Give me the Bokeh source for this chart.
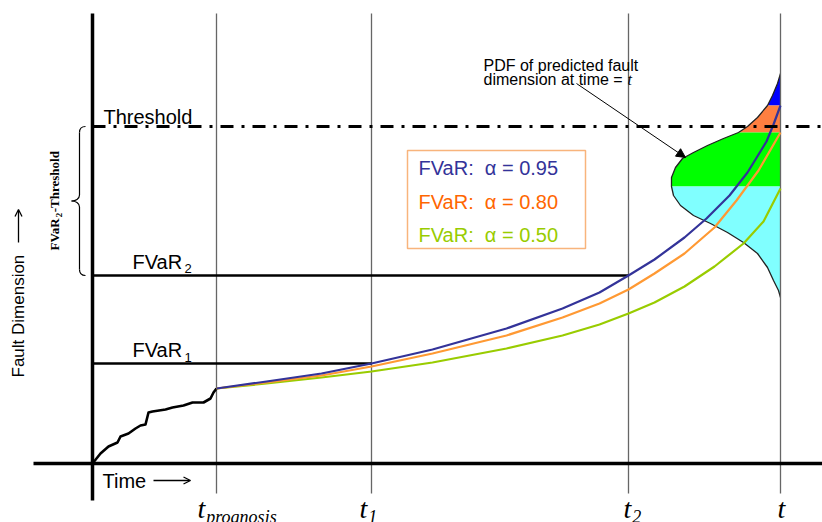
import numpy as np
from bokeh.plotting import figure
from bokeh.models import Range1d, Arrow, NormalHead, OpenHead
from bokeh.core.properties import value
from bokeh.embed import file_html
from bokeh.resources import INLINE

# ---------------- data (diagram units: time along x, fault dimension along y) ----
time_marks = [124, 279, 536, 688]          # t_prognosis, t1, t2, t
time_names = ["prognosis", "1", "2", ""]
t_prog, t1, t2, t_end = time_marks
threshold = 337
fvar_levels = [100, 188]                   # FVaR1, FVaR2
fvar_times = [279, 536]                    # where alpha=0.95 curve reaches them

# observed fault growth history
hist_t = [0, 8, 16, 25, 28, 36, 43, 48, 53, 56, 60, 73, 80, 91, 100, 105, 111, 118, 121, 124]
hist_d = [0, 10, 17, 21, 27, 30, 35, 38, 39, 51, 52, 54, 56, 58, 61, 61, 61, 65, 71, 75]

# predicted FVaR trajectories
fc095_t = [124, 174, 229, 279, 340, 414, 470, 507, 536, 562, 592, 614, 637, 655, 674, 681, 688]
fc095_d = [75, 82, 90, 100, 114, 135, 155, 171, 188, 204, 226, 245, 268, 291, 322, 339, 358]
fc080_t = [124, 174, 229, 279, 340, 414, 470, 507, 536, 562, 592, 622, 644, 666, 688]
fc080_d = [75, 81, 88, 97, 110, 128, 146, 160, 174, 190, 210, 236, 263, 293, 331]
fc050_t = [124, 174, 229, 279, 340, 414, 470, 507, 536, 562, 592, 622, 651, 671, 688]
fc050_d = [75, 80, 86, 92, 101, 115, 128, 139, 150, 161, 177, 197, 220, 242, 275]

# PDF of predicted fault dimension at time t
pdf_dim = [390, 380, 368, 358, 346, 337, 331, 325, 318, 311, 305, 296, 286, 277,
           268, 258, 248, 240, 231, 221, 210, 196, 183, 173, 166]
pdf_density = [0, 3, 8, 13, 23, 33, 42, 57, 73, 87, 98, 105, 109, 109,
               107, 100, 87, 70, 53, 37, 23, 13, 7, 2, 0]
band_edges = [390, 358, 331, 277, 166]
band_colors = ["#0000FF", "#FF7F40", "#00FF00", "#80FFFF"]

legend_labels = ["FVaR:\u00a0\u00a0\u03b1 = 0.95", "FVaR:\u00a0\u00a0\u03b1 = 0.80",
                 "FVaR:\u00a0\u00a0\u03b1 = 0.50"]
curve_colors = ["#333399", "#FF9933", "#99CC00"]
legend_text_colors = ["#333399", "#FF6600", "#99CC00"]

SANS = value("Liberation Sans")
SERIF = value("Liberation Serif")

p = figure(width=822, height=522, x_range=Range1d(-92, 730), y_range=Range1d(-59, 463),
           output_backend="svg", toolbar_location=None, min_border=0,
           x_axis_location=None, y_axis_location=None)
p.grid.visible = False
p.outline_line_color = None
p.background_fill_color = "white"
p.border_fill_color = "white"

# ---- PDF bands ----
dim = np.array(pdf_dim, dtype=float)
den = np.array(pdf_density, dtype=float)
for i, col in enumerate(band_colors):
    hi, lo = band_edges[i], band_edges[i + 1]
    m = (dim <= hi) & (dim >= lo)
    p.harea(x1=t_end - den[m], x2=np.full(m.sum(), t_end), y=dim[m],
            fill_color=col, fill_alpha=1.0)
p.line(t_end - den, dim, line_color="#222222", line_width=1.3, line_join="round")

# ---- vertical time lines ----
p.segment(x0=time_marks, y0=[-30] * 4, x1=time_marks, y1=[450] * 4,
          line_color="#666666", line_width=1.3)

# ---- axes ----
p.segment(x0=[0], y0=[-37], x1=[0], y1=[450], line_color="black", line_width=3.5)
p.segment(x0=[-59], y0=[0], x1=[730], y1=[0], line_color="black", line_width=3.5)

# ---- FVaR levels ----
p.segment(x0=[0, 0], y0=fvar_levels, x1=fvar_times, y1=fvar_levels,
          line_color="black", line_width=2.5)

# ---- history ----
p.line(hist_t, hist_d, line_color="black", line_width=2.6, line_join="round")

# ---- forecast curves ----
for xs, ys, col in zip([fc050_t, fc080_t, fc095_t], [fc050_d, fc080_d, fc095_d],
                       curve_colors[::-1]):
    p.line(xs, ys, line_color=col, line_width=2.2, line_join="round")

# ---- threshold ----
p.line([0, 730], [threshold, threshold], line_color="black", line_width=3,
       line_dash="13 8 3 8")

# ---- legend box ----
p.quad(left=[315], right=[493], bottom=[215], top=[313], fill_color="white",
       line_color="#F8B47C", line_width=1.5)
p.text(x=[326] * 3, y=[295.5, 262, 229], text=legend_labels, text_color=legend_text_colors,
       text_font=SANS, text_font_size="20px", text_align="left", text_baseline="middle")

# ---- labels ----
p.text(x=[11], y=[347], text=["Threshold"], text_font=SANS, text_font_size="20px",
       text_align="left", text_baseline="middle", text_color="black")
fv_fs = 20
fv_w = 2.556 * fv_fs
p.text(x=[40, 40], y=[fvar_levels[1] + 14, fvar_levels[0] + 14], text=["FVaR", "FVaR"],
       text_font=SANS, text_font_size=f"{fv_fs}px", text_align="left",
       text_baseline="middle", text_color="black")
p.text(x=[40 + fv_w + 1] * 2, y=[fvar_levels[1] + 7, fvar_levels[0] + 6], text=["2", "1"],
       text_font=SANS, text_font_size="13px", text_align="left",
       text_baseline="middle", text_color="black")

# Time arrow label
p.text(x=[10], y=[-17], text=["Time"], text_font=SANS, text_font_size="20px",
       text_align="left", text_baseline="middle", text_color="black")
p.add_layout(Arrow(end=OpenHead(size=7, line_width=1.3, line_color="black"),
                   x_start=61, y_start=-17, x_end=98, y_end=-17,
                   line_width=1.3, line_color="black"))

# Fault Dimension label (rotated)
p.text(x=[-74], y=[86], text=["Fault Dimension"], angle=np.pi / 2, text_font=SANS,
       text_font_size="17px", text_align="left", text_baseline="middle", text_color="black")
p.add_layout(Arrow(end=OpenHead(size=7, line_width=1.3, line_color="black"),
                   x_start=-74, y_start=221, x_end=-74, y_end=254,
                   line_width=1.3, line_color="black"))

# FVaR2-Threshold (rotated, bold serif)
bs = 13
y0 = 213
p.text(x=[-38], y=[y0], text=["FVaR"], angle=np.pi / 2, text_font=SERIF,
       text_font_style="bold", text_font_size=f"{bs}px", text_align="left",
       text_baseline="middle", text_color="black")
p.text(x=[-34], y=[y0 + 2.555 * bs], text=["2"], angle=np.pi / 2, text_font=SERIF,
       text_font_style="bold", text_font_size="9px", text_align="left",
       text_baseline="middle", text_color="black")
p.text(x=[-38], y=[y0 + 2.555 * bs + 5], text=["-Threshold"], angle=np.pi / 2,
       text_font=SERIF, text_font_style="bold", text_font_size=f"{bs}px",
       text_align="left", text_baseline="middle", text_color="black")

# brace spanning FVaR2 .. Threshold
top, bot = threshold, fvar_levels[1]
mid = (top + bot) / 2
bx, bt, be = -13, -21, -7
p.bezier(x0=[be, bx, bt, bx], y0=[top, mid + 6, mid, bot + 6],
         x1=[bx, bt, bx, be], y1=[top - 6, mid, mid - 6, bot],
         cx0=[be - 4, bx, bt + 4, bx], cy0=[top, mid + 2, mid, bot + 2],
         cx1=[bx, bt + 4, bx, be - 4], cy1=[top - 2, mid, mid - 2, bot],
         line_color="black", line_width=1.2)
p.segment(x0=[bx, bx], y0=[top - 6, mid - 6], x1=[bx, bx], y1=[mid + 6, bot + 6],
          line_color="black", line_width=1.2)

# PDF annotation
p.text(x=[391, 391], y=[398.5, 384.5], text=["PDF of predicted fault", "dimension at time ="],
       text_font=SANS, text_font_size="16px", text_align="left",
       text_baseline="middle", text_color="black")
p.text(x=[535], y=[384.5], text=["t"], text_font=SERIF,
       text_font_style="italic", text_font_size="16px", text_align="left",
       text_baseline="middle", text_color="black")
p.add_layout(Arrow(end=NormalHead(size=9, fill_color="black", line_color="black"),
                   x_start=484, y_start=380, x_end=593, y_end=306,
                   line_width=1, line_color="black"))

# time labels below axis
t_off = [-19, -12, -5, -3]
ts = 28
p.text(x=[tm + o for tm, o in zip(time_marks, t_off)], y=[-44.5] * 4, text=["t"] * 4,
       text_font=SERIF, text_font_style="italic", text_font_size=f"{ts}px",
       text_align="left", text_baseline="middle", text_color="black")
p.text(x=[tm + o + 0.278 * ts + 1 for tm, o in zip(time_marks, t_off)], y=[-53] * 4,
       text=time_names, text_font=SERIF, text_font_style="italic",
       text_font_size="18px", text_align="left", text_baseline="middle",
       text_color="black")

open("out.html", "w").write(file_html(p, INLINE))
